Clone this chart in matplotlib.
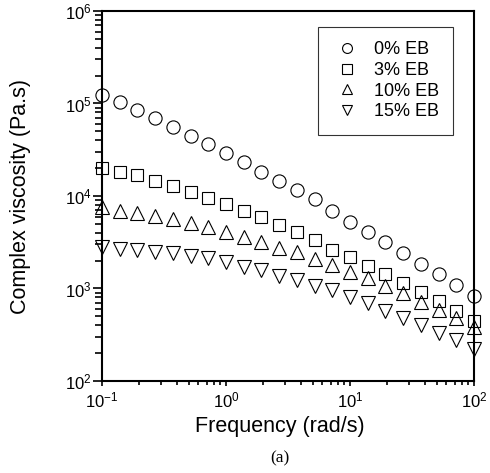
import numpy as np
import matplotlib
matplotlib.use('Agg')
import matplotlib.pyplot as plt

# 频率 (rad/s)
freq = [0.1, 0.139, 0.193, 0.268, 0.373, 0.518, 0.72, 1.0, 1.39, 1.93, 2.68,
        3.73, 5.18, 7.2, 10.0, 13.9, 19.3, 26.8, 37.3, 51.8, 72.0, 100.0]

# 复数粘度 (Pa.s)
eta_0 = [1.24e5, 1.04e5, 8.5e4, 6.97e4, 5.57e4, 4.45e4, 3.65e4, 2.92e4, 2.33e4, 1.82e4, 1.45e4,
         1.16e4, 9.3e3, 6.9e3, 5.24e3, 4.08e3, 3.18e3, 2.42e3, 1.84e3, 1.44e3, 1.09e3, 8.3e2]
eta_3 = [2.01e4, 1.82e4, 1.69e4, 1.45e4, 1.28e4, 1.10e4, 9.5e3, 8.2e3, 6.9e3, 5.93e3, 4.86e3,
         4.08e3, 3.34e3, 2.61e3, 2.19e3, 1.75e3, 1.44e3, 1.15e3, 9.2e2, 7.3e2, 5.7e2, 4.4e2]
eta_10 = [7.6e3, 6.9e3, 6.55e3, 6.08e3, 5.64e3, 5.1e3, 4.62e3, 4.08e3, 3.6e3, 3.18e3, 2.74e3,
          2.48e3, 2.08e3, 1.8e3, 1.51e3, 1.3e3, 1.06e3, 8.9e2, 7.1e2, 5.9e2, 4.8e2, 3.8e2]
eta_15 = [2.81e3, 2.67e3, 2.61e3, 2.48e3, 2.42e3, 2.25e3, 2.14e3, 1.93e3, 1.71e3, 1.58e3, 1.37e3,
          1.24e3, 1.06e3, 9.6e2, 8.1e2, 7.0e2, 5.7e2, 4.8e2, 4.0e2, 3.3e2, 2.8e2, 2.2e2]

labels = ['0% EB', '3% EB', '10% EB', '15% EB']
markers = ['o', 's', '^', 'v']

plt.rcParams['font.family'] = ['Liberation Sans', 'DejaVu Sans']
plt.rcParams['mathtext.fontset'] = 'custom'
plt.rcParams['mathtext.rm'] = 'Liberation Sans'
plt.rcParams['mathtext.it'] = 'Liberation Sans'

fig = plt.figure(figsize=(4.9, 4.73), dpi=100)
ax = fig.add_axes([102 / 490, (473 - 381) / 473, 372 / 490, 370 / 473])

for y, m, lab in zip([eta_0, eta_3, eta_10, eta_15], markers, labels):
    ms = 8.8 if m == 's' else 9.5
    ax.plot(freq, y, linestyle='none', marker=m, markersize=ms,
            markerfacecolor='none', markeredgecolor='black', markeredgewidth=0.8,
            label=lab, clip_on=False, zorder=3)

ax.set_xscale('log')
ax.set_yscale('log')
ax.set_xlim(0.1, 100)
ax.set_ylim(1e2, 1e6)

for s in ax.spines.values():
    s.set_linewidth(1.5)

ax.tick_params(axis='both', which='both', direction='out', width=1.2, labelsize=12)
ax.tick_params(axis='y', which='major', length=6.5, pad=1)
ax.tick_params(axis='y', which='minor', length=5)
ax.tick_params(axis='x', which='major', length=3.6, pad=3)
ax.tick_params(axis='x', which='minor', length=3)

ax.set_xlabel('Frequency (rad/s)', fontsize=15.5)
ax.set_ylabel('Complex viscosity (Pa.s)', fontsize=15.5)
ax.xaxis.set_label_coords((280 - 102) / 372, -0.095)
ax.yaxis.set_label_coords(-0.19, 0.5)

leg = ax.legend(loc='upper right', bbox_to_anchor=(0.944, 0.957), borderaxespad=0,
                fontsize=13, frameon=True, fancybox=False, edgecolor='black',
                markerscale=0.75, handlelength=1.62, handletextpad=0.68,
                borderpad=0.8, labelspacing=0.2)
leg.get_frame().set_linewidth(0.8)

fig.text(280 / 490, (473 - 458) / 473, '(a)', ha='center', va='center',
         fontsize=12.5, family='Liberation Serif')

fig.savefig('out.png', dpi=100)
